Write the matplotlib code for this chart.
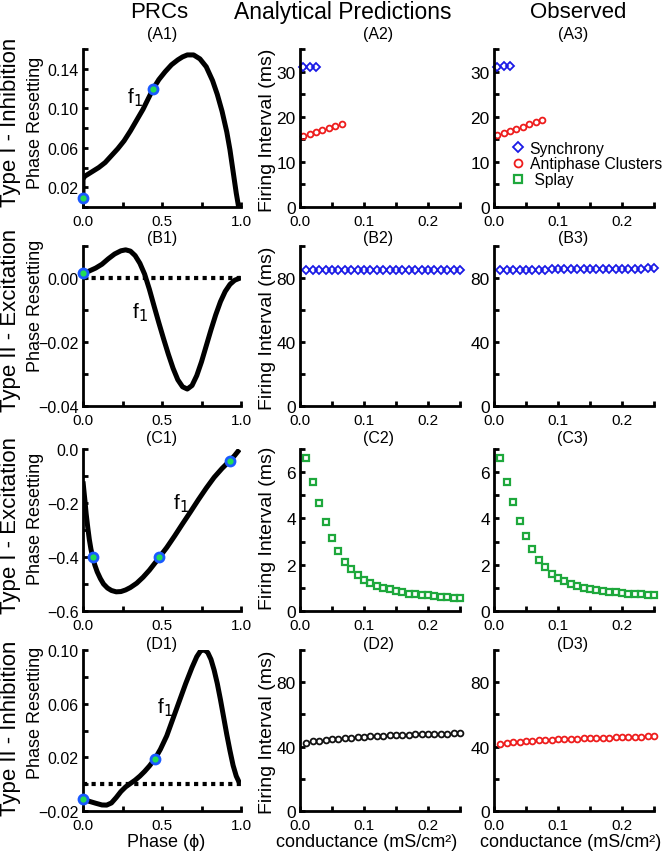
import numpy as np
import matplotlib
matplotlib.use("Agg")
import matplotlib.pyplot as plt

plt.rcParams['font.family'] = ['Liberation Sans', 'DejaVu Sans']
plt.rcParams['axes.unicode_minus'] = True

# ---------------- data ----------------
# PRC curves (phase, phase resetting)
a1_phase = [0.0, 0.0, 0.01, 0.03, 0.06, 0.10, 0.14, 0.18, 0.22, 0.26, 0.30, 0.34, 0.38, 0.42, 0.445,
            0.48, 0.52, 0.56, 0.60, 0.63, 0.66, 0.70, 0.74, 0.78, 0.82, 0.85, 0.88, 0.91, 0.93,
            0.95, 0.97, 0.985]
a1_reset = [0.009, 0.028, 0.031, 0.033, 0.036, 0.040, 0.045, 0.052, 0.059, 0.067, 0.077, 0.088, 0.099,
            0.112, 0.120, 0.129, 0.137, 0.144, 0.149, 0.152, 0.154, 0.154, 0.150, 0.142, 0.128, 0.114,
            0.097, 0.076, 0.058, 0.036, 0.014, 0.0]
a1_pts_phase = [0.0, 0.445]
a1_pts_reset = [0.009, 0.120]

b1_phase = [0.0, 0.04, 0.08, 0.12, 0.16, 0.20, 0.24, 0.27, 0.30, 0.33, 0.36, 0.39, 0.42, 0.45, 0.48,
            0.51, 0.54, 0.57, 0.60, 0.63, 0.66, 0.69, 0.72, 0.75, 0.78, 0.81, 0.84, 0.87, 0.90, 0.93,
            0.96, 0.995]
b1_reset = [0.0015, 0.0022, 0.0031, 0.0043, 0.0060, 0.0075, 0.0085, 0.0088, 0.0084, 0.0070, 0.0046,
            0.0012, -0.0035, -0.0088, -0.0140, -0.0190, -0.0238, -0.0282, -0.0318, -0.0340, -0.0347,
            -0.0336, -0.0305, -0.0262, -0.0212, -0.0162, -0.0115, -0.0074, -0.0042, -0.0020, -0.0007, 0.0]
b1_pts_phase = [0.0]
b1_pts_reset = [0.0015]

c1_phase = [0.0, 0.005, 0.012, 0.02, 0.03, 0.04, 0.05, 0.061, 0.075, 0.09, 0.11, 0.13, 0.155, 0.18,
            0.21, 0.24, 0.27, 0.30, 0.34, 0.38, 0.42, 0.46, 0.483, 0.53, 0.58, 0.63, 0.68, 0.73, 0.78,
            0.83, 0.88, 0.93, 0.96, 0.99]
c1_reset = [-0.12, -0.15, -0.19, -0.24, -0.29, -0.335, -0.37, -0.40, -0.43, -0.455, -0.48, -0.50, -0.515,
            -0.524, -0.529, -0.528, -0.522, -0.513, -0.497, -0.475, -0.449, -0.419, -0.401, -0.365,
            -0.322, -0.277, -0.233, -0.188, -0.145, -0.105, -0.072, -0.043, -0.024, -0.002]
c1_pts_phase = [0.061, 0.483, 0.93]
c1_pts_reset = [-0.40, -0.401, -0.043]

d1_phase = [0.0, 0.04, 0.08, 0.12, 0.15, 0.18, 0.21, 0.24, 0.27, 0.30, 0.33, 0.36, 0.39, 0.42, 0.456,
            0.49, 0.53, 0.57, 0.61, 0.65, 0.69, 0.72, 0.745, 0.77, 0.79, 0.81, 0.83, 0.85, 0.87, 0.89,
            0.91, 0.93, 0.95, 0.97, 0.99]
d1_reset = [-0.0113, -0.0128, -0.0142, -0.0155, -0.0156, -0.0140, -0.0100, -0.0055, -0.0020, 0.0005,
            0.0030, 0.0060, 0.0095, 0.0135, 0.019, 0.026, 0.036, 0.049, 0.062, 0.075, 0.087, 0.095,
            0.0995, 0.100, 0.098, 0.093, 0.085, 0.075, 0.063, 0.050, 0.037, 0.025, 0.014, 0.006, 0.001]
d1_pts_phase = [0.0, 0.456]
d1_pts_reset = [-0.0113, 0.019]

# firing intervals vs conductance
g_sync_a2 = [0.005, 0.015, 0.025]
sync_a2 = [31.0, 31.0, 31.0]
g_anti_a2 = [0.005, 0.015, 0.025, 0.035, 0.045, 0.055, 0.065]
anti_a2 = [15.8, 16.2, 16.6, 17.0, 17.5, 17.9, 18.4]

g_sync_a3 = [0.005, 0.015, 0.025]
sync_a3 = [31.0, 31.2, 31.3]
g_anti_a3 = [0.005, 0.015, 0.025, 0.035, 0.045, 0.055, 0.065, 0.075]
anti_a3 = [16.0, 16.5, 16.9, 17.3, 17.8, 18.3, 18.8, 19.3]

g25 = [0.01, 0.02, 0.03, 0.04, 0.05, 0.06, 0.07, 0.08, 0.09, 0.10, 0.11, 0.12, 0.13,
       0.14, 0.15, 0.16, 0.17, 0.18, 0.19, 0.20, 0.21, 0.22, 0.23, 0.24, 0.25]
sync_b2 = [85.0, 85.0, 85.0, 85.0, 85.0, 85.0, 85.0, 85.0, 85.0, 85.0, 85.0, 85.0, 85.0,
           85.0, 85.0, 85.0, 85.0, 85.0, 85.0, 85.0, 85.0, 85.0, 85.0, 85.0, 85.0]
sync_b3 = [85.0, 85.0, 85.1, 85.1, 85.2, 85.2, 85.3, 85.3, 85.4, 85.4, 85.5, 85.5, 85.6,
           85.6, 85.6, 85.7, 85.7, 85.8, 85.8, 85.8, 85.9, 85.9, 85.9, 86.0, 86.0]
splay_c2 = [6.62, 5.59, 4.65, 3.83, 3.14, 2.58, 2.13, 1.80, 1.55, 1.35, 1.20, 1.09, 1.00,
            0.93, 0.86, 0.80, 0.75, 0.72, 0.70, 0.67, 0.64, 0.62, 0.59, 0.58, 0.55]
splay_c3 = [6.62, 5.59, 4.70, 3.90, 3.22, 2.67, 2.22, 1.90, 1.62, 1.42, 1.28, 1.16, 1.07,
            1.00, 0.94, 0.90, 0.86, 0.83, 0.80, 0.77, 0.75, 0.74, 0.72, 0.71, 0.70]
anti_d2 = [42.5, 43.2, 43.7, 44.1, 44.5, 44.9, 45.2, 45.5, 45.8, 46.0, 46.3, 46.5, 46.7,
           46.9, 47.1, 47.3, 47.4, 47.6, 47.7, 47.8, 47.9, 48.0, 48.1, 48.2, 48.3]
anti_d3 = [41.8, 42.3, 42.7, 43.1, 43.4, 43.7, 43.9, 44.1, 44.3, 44.5, 44.7, 44.8, 45.0,
           45.1, 45.3, 45.4, 45.5, 45.6, 45.8, 45.9, 46.0, 46.1, 46.2, 46.3, 46.4]

col_titles = ["PRCs", "Analytical Predictions", "Observed"]
row_titles = ["Type I - Inhibition", "Type II - Excitation", "Type I - Excitation", "Type II - Inhibition"]
legend_labels = ['Synchrony', 'Antiphase Clusters', ' Splay']

# ---------------- layout ----------------
W, H = 666, 853
fig = plt.figure(figsize=(W / 100, H / 100), dpi=100)

cols_px = [(83, 241), (300, 460), (494, 654)]
rows_px = [(50, 208), (247, 407), (450, 612), (651, 812)]


def make_ax(r, c):
    x0, x1 = cols_px[c]
    y0, y1 = rows_px[r]
    return fig.add_axes([x0 / W, 1 - y1 / H, (x1 - x0) / W, (y1 - y0) / H])


def style(ax, ysize=11):
    for s in ['top', 'right']:
        ax.spines[s].set_visible(False)
    for s in ['left', 'bottom']:
        ax.spines[s].set_linewidth(2.0)
    ax.tick_params(which='both', direction='in', width=2, length=3.5, colors='black')
    ax.tick_params(axis='y', labelsize=ysize, pad=3)
    ax.tick_params(axis='x', labelsize=11, pad=5)
    ax.set_facecolor('white')


def ftext(x, y, s, **kw):
    fig.text(x / W, 1 - y / H, s, ha='center', va='center', **kw)


LW = 3.6
DOT = dict(marker='o', ls='none', ms=6.5, mfc='#22dd55', mec='#1a5aff', mew=2.0, zorder=5)
DOTTED = dict(color='black', lw=3, dashes=(1, 1.05), zorder=1)

prc = [
    (a1_phase, a1_reset, a1_pts_phase, a1_pts_reset, (0.0, 0.16),
     [0.02, 0.06, 0.10, 0.14], ['0.02', '0.06', '0.10', '0.14'], [0.0, 0.04, 0.08, 0.12, 0.16], False, (0.33, 0.112)),
    (b1_phase, b1_reset, b1_pts_phase, b1_pts_reset, (-0.04, 0.01),
     [-0.04, -0.02, 0.0], ['\u22120.04', '\u22120.02', '0.00'], [-0.03, -0.01, 0.01], True, (0.36, -0.0105)),
    (c1_phase, c1_reset, c1_pts_phase, c1_pts_reset, (-0.6, 0.0),
     [-0.6, -0.4, -0.2, 0.0], ['\u22120.6', '\u22120.4', '\u22120.2', '0.0'], [-0.5, -0.3, -0.1], False, (0.62, -0.2)),
    (d1_phase, d1_reset, d1_pts_phase, d1_pts_reset, (-0.02, 0.10),
     [-0.02, 0.02, 0.06, 0.10], ['\u22120.02', '0.02', '0.06', '0.10'], [0.0, 0.04, 0.08], True, (0.52, 0.058)),
]

for r, (px, py, dx, dy, ylim, yt, ytl, ymin, dotted, f1pos) in enumerate(prc):
    ax = make_ax(r, 0)
    style(ax, ysize=11.5)
    if dotted:
        ax.plot([0, 1], [0, 0], **DOTTED)
    ax.plot(px, py, color='black', lw=LW, solid_capstyle='butt', solid_joinstyle='round', zorder=3)
    ax.plot(dx, dy, clip_on=False, **DOT)
    ax.set_xlim(0, 1)
    ax.set_ylim(*ylim)
    ax.set_xticks([0, 0.5, 1.0])
    ax.set_xticklabels(['0.0', '0.5', '1.0'])
    ax.set_xticks([0.25, 0.75], minor=True)
    ax.set_yticks(yt)
    ax.set_yticklabels(ytl)
    ax.set_yticks(ymin, minor=True)
    ax.text(f1pos[0], f1pos[1], r'f$_1$', fontsize=15, ha='center', va='center')

BLUE = '#1a1ae6'
RED = '#ee1c1c'
GREEN = '#1ea83c'
BLACK = '#111111'


def mk(color, marker, ms, mew=1.3):
    return dict(ls='none', marker=marker, ms=ms, mfc='none', mec=color, mew=mew, clip_on=False)


handles = {}
right_axes = []
for c in (1, 2):
    # Row A
    ax = make_ax(0, c)
    right_axes.append(ax)
    style(ax, ysize=12.5)
    if c == 1:
        ax.plot(g_sync_a2, sync_a2, **mk(BLUE, 'D', 3.6))
        ax.plot(g_anti_a2, anti_a2, **mk(RED, 'o', 4.2))
    else:
        l1, = ax.plot(g_sync_a3, sync_a3, **mk(BLUE, 'D', 3.6))
        l2, = ax.plot(g_anti_a3, anti_a3, **mk(RED, 'o', 4.2))
        handles['sync'] = l1
        handles['anti'] = l2
        axA3 = ax
    ax.set_ylim(0, 35)
    ax.set_yticks([0, 10, 20, 30])
    ax.set_yticks([5, 15, 25, 35], minor=True)

    # Row B
    ax = make_ax(1, c)
    right_axes.append(ax)
    style(ax, ysize=12.5)
    ax.plot(g25, sync_b2 if c == 1 else sync_b3, **mk(BLUE, 'D', 3.6))
    ax.set_ylim(0, 100)
    ax.set_yticks([0, 40, 80])
    ax.set_yticks([20, 60, 100], minor=True)

    # Row C
    ax = make_ax(2, c)
    right_axes.append(ax)
    style(ax, ysize=12.5)
    l3, = ax.plot(g25, splay_c2 if c == 1 else splay_c3, **mk(GREEN, 's', 4.4, 1.6))
    if c == 2:
        handles['splay'] = l3
    ax.set_ylim(0, 7)
    ax.set_yticks([0, 2, 4, 6])
    ax.set_yticks([1, 3, 5, 7], minor=True)

    # Row D
    ax = make_ax(3, c)
    right_axes.append(ax)
    style(ax, ysize=12.5)
    ax.plot(g25, anti_d2 if c == 1 else anti_d3, **mk(BLACK if c == 1 else RED, 'o', 4.2))
    ax.set_ylim(0, 100)
    ax.set_yticks([0, 40, 80])
    ax.set_yticks([20, 60, 100], minor=True)

for a in right_axes:
    a.set_xlim(0, 0.25)
    a.set_xticks([0.0, 0.1, 0.2])
    a.set_xticklabels(['0.0', '0.1', '0.2'])
    a.set_xticks([0.05, 0.15, 0.25], minor=True)

leg = axA3.legend([handles['sync'], handles['anti'], handles['splay']], legend_labels,
                  loc='upper left', bbox_to_anchor=(0.1, 0.42), frameon=False,
                  fontsize=11.3, handlelength=1.0, handletextpad=0.25,
                  labelspacing=0.05, borderpad=0, borderaxespad=0, numpoints=1,
                  markerscale=1.35)

# ---------------- texts ----------------
ftext(159, 13, col_titles[0], fontsize=16)
ftext(343, 13, col_titles[1], fontsize=16.5)
ftext(578, 13, col_titles[2], fontsize=16)

sub_y = [34, 238, 439, 644]
sub_x = [162, 378, 573]
for r, letter in enumerate("ABCD"):
    for c in range(3):
        ftext(sub_x[c], sub_y[r], "(%s%d)" % (letter, c + 1), fontsize=11.5)

row_y = [122, 320, 525, 728]
pr_y = [123, 306, 519, 713]
fi_y = [130, 328, 528, 732]
for r in range(4):
    ftext(11, row_y[r], row_titles[r], fontsize=16, rotation=90)
    ftext(35, pr_y[r], "Phase Resetting", fontsize=13, rotation=90)
    ftext(268, fi_y[r], "Firing Interval (ms)", fontsize=14, rotation=90)

ftext(166, 843, "Phase (\u03d5)", fontsize=13)
ftext(367, 843, "conductance (mS/cm\u00b2)", fontsize=13)
ftext(571, 843, "conductance (mS/cm\u00b2)", fontsize=13)

fig.savefig("out.png", dpi=100, facecolor='white')
